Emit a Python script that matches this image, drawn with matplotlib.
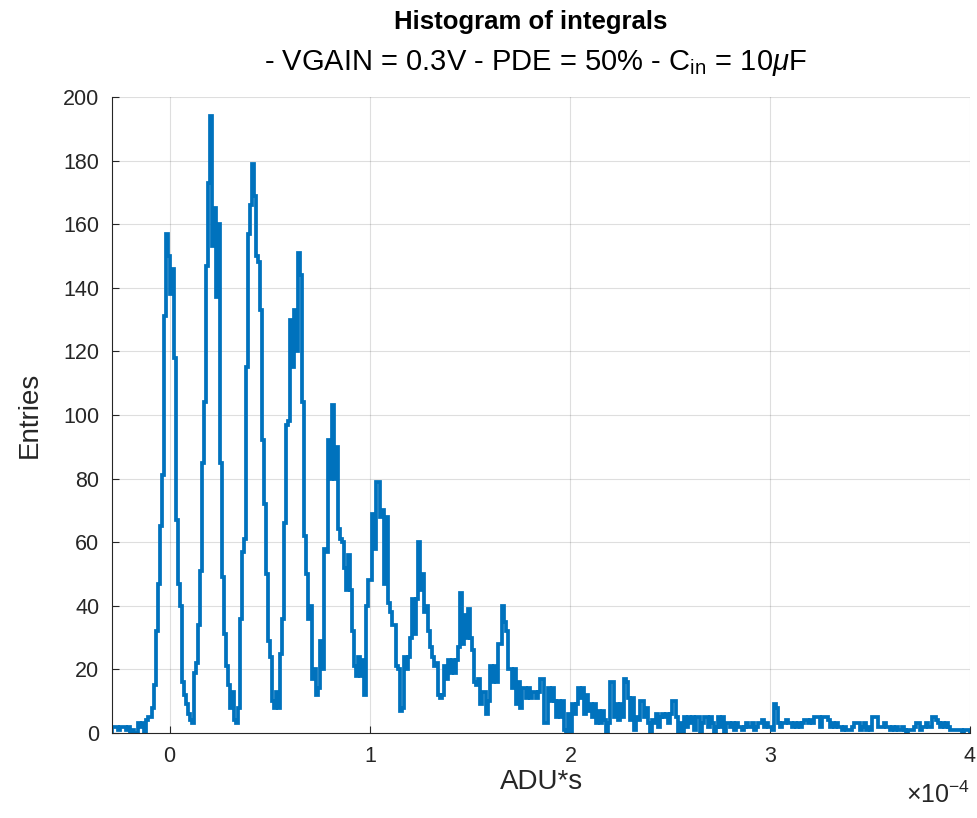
import matplotlib.pyplot as plt
import matplotlib as mpl
import numpy as np
from matplotlib.ticker import ScalarFormatter

mpl.rcParams['font.family'] = 'Liberation Sans'
mpl.rcParams['axes.unicode_minus'] = False
mpl.rcParams['mathtext.fontset'] = 'custom'
mpl.rcParams['mathtext.rm'] = 'Liberation Sans'
mpl.rcParams['mathtext.it'] = 'Liberation Sans:italic'

# histogram of integrals, bins of 1e-6 ADU*s starting at -2.9e-5
bin_start = -2.9e-5
bin_width = 1e-6
counts = [
    2, 2, 2, 1, 2, 2, 2, 1, 2, 0,
    1, 0, 0, 3, 2, 3, 0, 4, 5, 5,
    8, 15, 32, 47, 65, 81, 131, 157, 150, 138,
    146, 118, 67, 47, 40, 16, 12, 9, 6, 4,
    3, 19, 22, 34, 51, 85, 104, 147, 173, 194,
    153, 165, 137, 160, 85, 49, 31, 21, 15, 8,
    13, 4, 3, 8, 36, 57, 61, 115, 157, 166,
    179, 169, 150, 148, 133, 92, 72, 50, 29, 24,
    10, 8, 13, 8, 25, 36, 66, 97, 98, 130,
    115, 133, 120, 151, 144, 104, 62, 50, 36, 40,
    17, 20, 12, 14, 29, 20, 58, 57, 92, 80,
    103, 80, 90, 64, 61, 60, 52, 45, 56, 45,
    32, 21, 18, 24, 18, 23, 12, 40, 48, 48,
    69, 58, 79, 79, 68, 70, 47, 68, 41, 38,
    34, 34, 21, 20, 7, 8, 24, 20, 24, 30,
    42, 31, 42, 60, 45, 50, 38, 40, 32, 27,
    24, 21, 22, 12, 11, 12, 21, 17, 23, 19,
    23, 19, 23, 27, 44, 28, 37, 30, 39, 30,
    26, 16, 15, 17, 9, 13, 13, 6, 10, 21,
    16, 21, 16, 28, 28, 40, 35, 32, 20, 20,
    14, 20, 9, 16, 8, 14, 14, 11, 14, 11,
    13, 13, 11, 13, 17, 17, 3, 3, 14, 10,
    14, 10, 5, 10, 5, 10, 1, 0, 6, 0,
    9, 6, 9, 14, 11, 14, 6, 12, 7, 9,
    5, 9, 3, 7, 3, 7, 4, 0, 3, 16,
    16, 5, 9, 4, 9, 5, 17, 16, 11, 4,
    11, 1, 5, 4, 10, 10, 5, 8, 3, 0,
    4, 3, 6, 2, 5, 6, 5, 6, 3, 6,
    10, 10, 5, 0, 3, 0, 5, 2, 5, 3,
    5, 1, 5, 5, 0, 3, 5, 5, 2, 5,
    3, 0, 2, 5, 2, 5, 0, 3, 3, 2,
    3, 1, 3, 2, 2, 1, 2, 3, 2, 2,
    3, 1, 2, 3, 3, 4, 2, 3, 2, 2,
    1, 9, 8, 3, 2, 3, 3, 4, 3, 3,
    2, 3, 2, 3, 2, 3, 4, 4, 3, 4,
    3, 5, 5, 5, 2, 5, 5, 5, 4, 2,
    3, 2, 3, 2, 2, 1, 2, 1, 1, 1,
    2, 3, 3, 3, 1, 2, 3, 1, 2, 1,
    5, 5, 5, 2, 2, 2, 3, 2, 2, 1,
    2, 1, 2, 1, 1, 2, 1, 0, 1, 1,
    1, 2, 3, 3, 1, 2, 2, 3, 2, 2,
    5, 5, 4, 3, 2, 3, 2, 3, 2, 1,
    1, 1, 1, 1, 1, 0, 1, 1, 1,
]
x_ticks = [0, 1e-4, 2e-4, 3e-4, 4e-4]
y_ticks = [0, 20, 40, 60, 80, 100, 120, 140, 160, 180, 200]

edges = bin_start + bin_width * np.arange(len(counts) + 1)

fig = plt.figure(figsize=(9.77, 8.18), dpi=100)
ax = fig.add_axes([112/977, 1 - 733/818, (970-112)/977, (733-97)/818])

ax.stairs(counts, edges, color='#0072BD', linewidth=2.7, baseline=0)

ax.set_xlim(edges[0], 4e-4)
ax.set_ylim(0, 200)
ax.set_xticks(x_ticks)
ax.set_yticks(y_ticks)

fmt = ScalarFormatter(useMathText=True)
fmt.set_powerlimits((-3, 3))
ax.xaxis.set_major_formatter(fmt)
ax.xaxis.get_offset_text().set_visible(False)
fig.text(0.927, 0.018, r'$\times$10$^{-4}$', fontsize=18, color='#262626',
         ha='left', va='baseline')

ax.grid(True, color='#262626', alpha=0.15, linewidth=0.8)
ax.set_axisbelow(True)
for s in ['top', 'right']:
    ax.spines[s].set_visible(False)
for s in ['left', 'bottom']:
    ax.spines[s].set_color('#262626')
    ax.spines[s].set_linewidth(0.8)
ax.tick_params(direction='in', length=5, width=0.8, colors='#262626',
               labelsize=15.5, pad=9)

ax.set_xlabel('ADU*s', fontsize=20, color='#262626', labelpad=2)
ax.set_ylabel('Entries', fontsize=20, color='#262626', labelpad=15)

fig.text(0.543, 0.964, 'Histogram of integrals', ha='center', va='baseline',
         fontsize=18.5, fontweight='bold', color='black')
fig.text(0.548, 0.914, r'- VGAIN = 0.3V - PDE = 50% - C$_{\mathrm{in}}$ = 10$\mathit{\mu}$F',
         ha='center', va='baseline', fontsize=21, color='black')

fig.savefig('out.png', dpi=100)
